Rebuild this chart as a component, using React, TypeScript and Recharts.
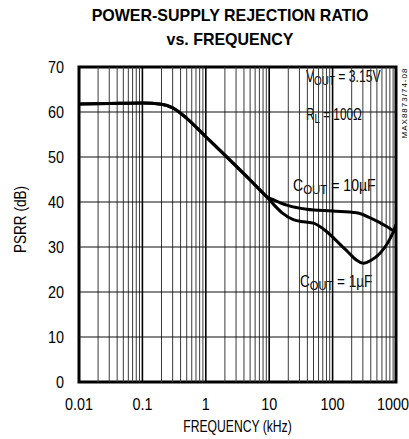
import React from 'react';
import { LineChart, Line, XAxis, YAxis, ReferenceLine, ReferenceArea } from 'recharts';

const FONT = "'Liberation Sans', Arial, sans-serif";

const xTicks = [0.01, 0.1, 1, 10, 100, 1000];
const yTicks = [0, 10, 20, 30, 40, 50, 60, 70];
const hGrid = [10, 20, 30, 40, 50, 60];
const decades = [0.01, 0.1, 1, 10, 100];
const multipliers = [2, 3, 4, 5, 6, 7, 8, 9];
const majorX = [0.1, 1, 10, 100];

const freqCommon = [0.01, 0.03, 0.1, 0.2, 0.3, 0.5, 1, 2, 5, 7];
const psrrCommon = [61.8, 61.9, 62.0, 61.7, 60.9, 58.6, 54.5, 50.4, 44.9, 42.8];

const freq10u = [9.1, 12, 15, 20, 39, 100, 240, 400, 700, 1000];
const psrr10u = [41.2, 40.4, 39.8, 39.2, 38.4, 38.0, 37.6, 36.4, 34.6, 33.2];

const freq1u = [9.1, 12, 16, 24, 35, 50, 81, 150, 306, 400, 560, 906, 1000];
const psrr1u = [41.2, 39.3, 37.6, 36.1, 35.6, 35.3, 33.4, 29.8, 26.4, 27.0, 28.6, 33.4, 35.0];

const series10u = [...freqCommon, ...freq10u].map((f, i) => ({ f, v: [...psrrCommon, ...psrr10u][i] }));
const series1u = [...freqCommon, ...freq1u].map((f, i) => ({ f, v: [...psrrCommon, ...psrr1u][i] }));

const minorX: number[] = [];
decades.forEach((d) => multipliers.forEach((m) => minorX.push(+(d * m).toPrecision(3))));

type Seg = { t: string; sub?: boolean };

const renderBox = (lines: Seg[][], dx: number, baselines: number[], scales: number[]) => (props: any) => {
  const vb = props.viewBox || {};
  const { x, y, width, height } = vb;
  return (
    <g>
      <rect x={x} y={y} width={width} height={height} fill="#fff" />
      {lines.map((segs, li) => (
        <text
          key={li}
          x={0}
          y={0}
          transform={`translate(${x + dx},${y + baselines[li]}) scale(${scales[li]},1)`}
          fontFamily={FONT}
          fontSize={16}
          fill="#000"
        >
          {segs.map((s, si) =>
            s.sub ? (
              <tspan key={si} fontSize={13} dy={3}>{s.t}</tspan>
            ) : (
              <tspan key={si} dy={si > 0 && segs[si - 1].sub ? -3 : 0}>{s.t}</tspan>
            )
          )}
        </text>
      ))}
    </g>
  );
};

const XTick = (props: any) => {
  const { x, y, payload } = props;
  return (
    <text
      x={0}
      y={0}
      dy="0.71em"
      transform={`translate(${x},${y}) scale(0.9,1)`}
      textAnchor="middle"
      fontFamily={FONT}
      fontSize={16}
      fill="#000"
    >
      {String(payload.value)}
    </text>
  );
};

const YTick = (props: any) => {
  const { x, y, payload } = props;
  return (
    <text
      x={0}
      y={0}
      dy="0.36em"
      transform={`translate(${x},${y}) scale(0.9,1)`}
      textAnchor="end"
      fontFamily={FONT}
      fontSize={16}
      fill="#000"
    >
      {String(payload.value)}
    </text>
  );
};

export default function App() {
  return (
    <div style={{ position: 'absolute', left: 0, top: 0, width: 409, height: 439, background: '#fff' }}>
      <div
        style={{
          position: 'absolute',
          left: 51,
          top: 4,
          width: 358,
          textAlign: 'center',
          fontFamily: FONT,
          fontWeight: 'bold',
          fontSize: 17,
          lineHeight: '24px',
          color: '#000',
          transform: 'scale(0.94,1)',
          transformOrigin: '179px 0',
          whiteSpace: 'nowrap',
        }}
      >
        <div>POWER-SUPPLY REJECTION RATIO</div>
        <div>vs. FREQUENCY</div>
      </div>
      <div
        style={{
          position: 'absolute',
          left: 404,
          top: 103,
          transform: 'translate(-50%, -50%) rotate(-90deg)',
          fontFamily: FONT,
          fontSize: 8,
          letterSpacing: 1,
          whiteSpace: 'nowrap',
          color: '#000',
        }}
      >
        MAX8873/74-08
      </div>
      <LineChart width={409} height={439} margin={{ top: 67, right: 13, bottom: 0, left: 0 }}>
        <XAxis
          type="number"
          dataKey="f"
          scale="log"
          domain={[0.01, 1000]}
          ticks={xTicks}
          allowDataOverflow
          axisLine={false}
          tickLine={false}
          height={57}
          tickMargin={11}
          tick={<XTick />}
          label={{
            content: (p: any) => {
              const vb = p.viewBox || {};
              const cx = vb.x + vb.width / 2;
              const cy = 432;
              return (
                <text
                  x={0}
                  y={0}
                  transform={`translate(${cx},${cy}) scale(0.76,1)`}
                  textAnchor="middle"
                  fontFamily={FONT}
                  fontSize={16}
                  fill="#000"
                >
                  FREQUENCY (kHz)
                </text>
              );
            },
          }}
        />
        <YAxis
          type="number"
          domain={[0, 70]}
          ticks={yTicks}
          axisLine={false}
          tickLine={false}
          width={79}
          tickMargin={9}
          tick={<YTick />}
          label={{
            content: (p: any) => {
              const vb = p.viewBox || {};
              const cx = 20;
              const cy = vb.y + vb.height / 2 - 5;
              return (
                <text
                  x={0}
                  y={0}
                  transform={`translate(${cx},${cy}) rotate(-90) scale(0.85,1)`}
                  textAnchor="middle"
                  dy="0.36em"
                  fontFamily={FONT}
                  fontSize={16}
                  fill="#000"
                >
                  PSRR (dB)
                </text>
              );
            },
          }}
        />
        {minorX.map((v) => (
          <ReferenceLine key={'mx' + v} x={v} stroke="#3a3a3a" strokeWidth={1} />
        ))}
        {majorX.map((v) => (
          <ReferenceLine key={'Mx' + v} x={v} stroke="#000" strokeWidth={1.6} />
        ))}
        {hGrid.map((v) => (
          <ReferenceLine key={'h' + v} y={v} stroke="#111" strokeWidth={1.2} />
        ))}
        <ReferenceArea
          x1={30.6}
          x2={560}
          y1={57}
          y2={69.3}
          fill="none"
          stroke="none"
          label={{
            content: renderBox(
              [
                [{ t: 'V' }, { t: 'OUT', sub: true }, { t: ' = 3.15V' }],
                [{ t: 'R' }, { t: 'L', sub: true }, { t: ' = 100Ω' }],
              ],
              6,
              [12, 50],
              [0.76, 0.74]
            ),
          }}
        />
        <ReferenceArea
          x1={20.5}
          x2={560}
          y1={40.9}
          y2={46}
          fill="none"
          stroke="none"
          label={{
            content: renderBox([[{ t: 'C' }, { t: 'OUT', sub: true }, { t: ' = 10µF' }]], 4, [16], [0.88]),
          }}
        />
        <ReferenceArea
          x1={26.5}
          x2={560}
          y1={19.6}
          y2={24.7}
          fill="none"
          stroke="none"
          label={{
            content: renderBox([[{ t: 'C' }, { t: 'OUT', sub: true }, { t: ' = 1µF' }]], 4, [16.5], [0.85]),
          }}
        />
        <Line
          data={series10u}
          dataKey="v"
          type="monotone"
          stroke="#000"
          strokeWidth={3}
          dot={false}
          isAnimationActive={false}
        />
        <Line
          data={series1u}
          dataKey="v"
          type="monotone"
          stroke="#000"
          strokeWidth={3}
          dot={false}
          isAnimationActive={false}
        />
        <ReferenceArea x1={0.01} x2={1000} y1={0} y2={70} fill="none" stroke="#000" strokeWidth={3} />
      </LineChart>
    </div>
  );
}
